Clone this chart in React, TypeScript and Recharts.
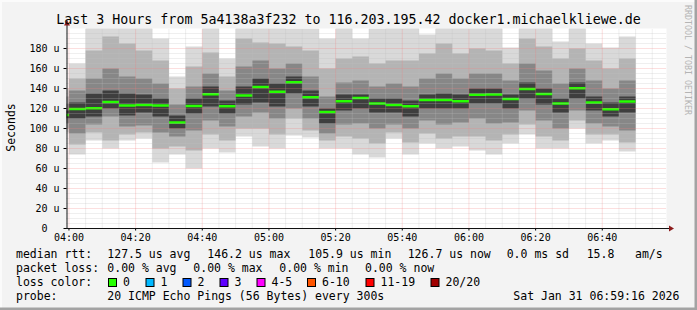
import React from 'react';
import { ComposedChart, Area, XAxis, YAxis, ReferenceLine } from 'recharts';

// 5-minute intervals, minutes after 04:00 (interval start)
const startMinutes = [-5, 0, 5, 10, 15, 20, 25, 30, 35, 40, 45, 50, 55, 60, 65, 70, 75, 80, 85, 90, 95, 100, 105, 110, 115, 120, 125, 130, 135, 140, 145, 150, 155, 160, 165];
// median round-trip time (microseconds)
const medianUs = [113.4, 119.6, 120.3, 126.6, 122.9, 123.6, 122.9, 106.0, 122.6, 134.2, 122.3, 132.9, 141.5, 136.8, 146.2, 131.2, 116.6, 127.3, 130.6, 124.9, 123.6, 122.3, 128.6, 128.6, 127.3, 133.7, 133.9, 129.6, 139.5, 134.5, 124.9, 140.2, 125.9, 119.3, 126.9];
// smoke: distribution of the 20 pings per interval
const minUs = [96, 74, 88, 80, 88, 90, 66, 74, 60, 80, 76, 92, 82, 80, 93, 91, 80, 80, 74, 71, 90, 74, 85, 80, 82, 78, 74, 85, 94, 80, 80, 100, 85, 88, 77];
const p10Us = [100, 84, 96, 88, 94, 96, 80, 82, 78, 94, 88, 100, 100, 94, 110, 98, 88, 92, 90, 85, 96, 86, 95, 90, 92, 92, 88, 94, 104, 92, 88, 108, 94, 94, 86];
const p25Us = [105, 95, 104, 112, 102, 103, 96, 92, 98, 108, 102, 112, 116, 110, 120, 110, 95, 104, 105, 100, 104, 100, 108, 104, 106, 110, 105, 106, 118, 108, 100, 118, 105, 102, 98];
const p40Us = [110, 110, 112, 120, 113, 116, 112, 100, 115, 122, 115, 124, 126, 122, 135, 122, 105, 118, 120, 116, 116, 112, 120, 120, 120, 125, 125, 120, 130, 124, 116, 130, 118, 112, 116];
const p60Us = [118, 126, 135, 138, 135, 134, 130, 113, 130, 142, 128, 142, 150, 145, 152, 138, 120, 134, 134, 130, 130, 128, 134, 135, 134, 140, 140, 134, 146, 140, 130, 146, 132, 126, 132];
const p75Us = [125, 138, 150, 160, 152, 150, 145, 124, 142, 155, 138, 162, 168, 160, 165, 152, 132, 146, 148, 142, 145, 142, 150, 155, 150, 155, 155, 148, 165, 158, 145, 160, 148, 140, 148];
const p90Us = [132, 150, 178, 192, 185, 178, 168, 140, 162, 176, 152, 190, 186, 185, 182, 178, 160, 170, 172, 165, 168, 168, 175, 185, 175, 180, 178, 165, 190, 182, 170, 180, 168, 160, 170];
const maxUs = [140, 165, 215, 225, 210, 202, 190, 152, 182, 210, 170, 215, 205, 210, 200, 200, 190, 205, 190, 200, 205, 205, 194, 210, 205, 210, 205, 181, 215, 205, 187, 205, 185, 181, 192];

const xTickValues = [0, 20, 40, 60, 80, 100, 120, 140, 160];
const xTickLabels = ['04:00', '04:20', '04:40', '05:00', '05:20', '05:40', '06:00', '06:20', '06:40'];
const yTickValues = [0, 20, 40, 60, 80, 100, 120, 140, 160, 180];
const yTickLabels = ['0\u00a0\u00a0', '20 u', '40 u', '60 u', '80 u', '100 u', '120 u', '140 u', '160 u', '180 u'];

const lossLabels = ['0', '1', '2', '3', '4-5', '6-10', '11-19', '20/20'];
const lossColors = ['#26ff00', '#00b8ff', '#0059ff', '#5e00ff', '#ff00ff', '#ff5500', '#ff0000', '#a00000'];

const title = 'Last 3 Hours from 5a4138a3f232 to 116.203.195.42 docker1.michaelkliewe.de';

// time window: 03:59:16 .. 06:59:16
const X_DOMAIN: [number, number] = [-44 / 60, 180 - 44 / 60];
const Y_DOMAIN: [number, number] = [0, 200];
const MEDIAN_HALF = 1.25;

const rows = startMinutes.map((t, i) => ({
  t,
  outer: [minUs[i], maxUs[i]],
  l2: [p10Us[i], p90Us[i]],
  l3: [p25Us[i], p75Us[i]],
  l4: [p40Us[i], p60Us[i]],
  med: [medianUs[i] - MEDIAN_HALF, medianUs[i] + MEDIAN_HALF],
}));
{
  const last = rows[rows.length - 1];
  rows.push({ ...last, t: last.t + 5 });
}

const minorX: number[] = [];
for (let m = 5; m < 180; m += 5) if (m % 20 !== 0) minorX.push(m);
const minorY: number[] = [];
for (let v = 5; v < 200; v += 5) if (v % 20 !== 0) minorY.push(v);
const majorY = yTickValues.filter((v) => v > 0);

const MONO = "'DejaVu Sans Mono', monospace";
const MINOR = 'rgba(192,192,192,0.5)';
const MAJOR = 'rgba(245,128,128,0.5)';

const layers = [
  { key: 'outer', fill: '#d9d9d9' },
  { key: 'l2', fill: '#b4b4b4' },
  { key: 'l3', fill: '#878787' },
  { key: 'l4', fill: '#3e3e3e' },
  { key: 'med', fill: '#26ff00' },
];

const legendRows = [
  { y: 257.7, parts: [
    { x: 16, s: 'median rtt:' },
    { x: 107.3, s: '127.5 us avg' },
    { x: 207.3, s: '146.2 us max' },
    { x: 308.3, s: '105.9 us min' },
    { x: 407.7, s: '126.7 us now' },
    { x: 506.7, s: '0.0 ms sd' },
    { x: 586.7, s: '15.8' },
    { x: 635, s: 'am/s' },
  ] },
  { y: 271.7, parts: [
    { x: 16, s: 'packet loss:' },
    { x: 107.3, s: '0.00 % avg' },
    { x: 193.3, s: '0.00 % max' },
    { x: 279.3, s: '0.00 % min' },
    { x: 365, s: '0.00 % now' },
  ] },
  { y: 285.7, parts: [{ x: 16, s: 'loss color:' }] },
  { y: 299.5, parts: [
    { x: 16, s: 'probe:' },
    { x: 107.3, s: '20 ICMP Echo Pings (56 Bytes) every 300s' },
    { x: 513.3, s: 'Sat Jan 31 06:59:16 2026' },
  ] },
];
const boxX = [108, 145.5, 182.5, 219.5, 256.5, 307, 365.5, 430.5];

export default function App() {
  return (
    <div style={{ position: 'absolute', left: 0, top: 0, width: 697, height: 310 }}>
      <svg width={697} height={310} style={{ position: 'absolute', left: 0, top: 0 }}>
        <rect x={0} y={0} width={697} height={310} fill="#f3f3f3" />
        <rect x={0} y={0} width={697} height={2} fill="#fbfbfb" />
        <rect x={0} y={0} width={2} height={310} fill="#fbfbfb" />
        <rect x={694.5} y={0} width={2.5} height={310} fill="#a3a3a3" />
        <rect x={0} y={307.5} width={697} height={2.5} fill="#a3a3a3" />
        <rect x={66.5} y={28.5} width={600} height={200} fill="#ffffff" />
      </svg>
      <div style={{ position: 'absolute', left: 0, top: 0 }}>
        <ComposedChart width={697} height={310} data={rows} margin={{ top: 28.5, right: 30.5, bottom: 0, left: 0 }}>
          <XAxis
            dataKey="t"
            type="number"
            domain={X_DOMAIN}
            allowDataOverflow
            ticks={xTickValues}
            tickFormatter={(v: number) => xTickLabels[xTickValues.indexOf(v)] ?? ''}
            height={81.5}
            axisLine={false}
            tickLine={{ stroke: '#000' }}
            tickSize={2}
            tickMargin={3}
            interval={0}
            tick={{ fontFamily: MONO, fontSize: 10, fill: '#000' }}
          />
          <YAxis
            type="number"
            domain={Y_DOMAIN}
            allowDataOverflow
            ticks={yTickValues}
            tickFormatter={(v: number) => yTickLabels[yTickValues.indexOf(v)] ?? ''}
            width={66.5}
            axisLine={false}
            tickLine={{ stroke: '#000' }}
            tickSize={3}
            tickMargin={4}
            interval={0}
            tick={{ fontFamily: MONO, fontSize: 10, fill: '#000' }}
          />
          {layers.map((l) => (
            <Area
              key={l.key}
              dataKey={l.key}
              type="stepAfter"
              stroke="none"
              fill={l.fill}
              fillOpacity={1}
              isAnimationActive={false}
              dot={false}
              activeDot={false}
            />
          ))}
          {minorY.map((v) => (
            <ReferenceLine key={'my' + v} y={v} stroke={MINOR} strokeDasharray="1 1" />
          ))}
          {minorX.map((v) => (
            <ReferenceLine key={'mx' + v} x={v} stroke={MINOR} strokeDasharray="1 1" />
          ))}
          {majorY.map((v) => (
            <ReferenceLine key={'My' + v} y={v} stroke={MAJOR} strokeDasharray="1 1" />
          ))}
          {xTickValues.map((v) => (
            <ReferenceLine key={'Mx' + v} x={v} stroke={MAJOR} strokeDasharray="1 1" />
          ))}
        </ComposedChart>
      </div>
      <svg width={697} height={310} style={{ position: 'absolute', left: 0, top: 0, pointerEvents: 'none' }}>
        <line x1={67} y1={228.5} x2={67} y2={24} stroke="#111" strokeWidth={1} />
        <polygon points="64,25.5 70,25.5 67,20" fill="#8c1c1c" />
        <line x1={66} y1={228.5} x2={670} y2={228.5} stroke="#111" strokeWidth={1} />
        <polygon points="669,225.5 669,231.5 674,228.5" fill="#8c1c1c" />
        <text x={348.5} y={24.2} textAnchor="middle" fontFamily={MONO} fontSize={13.3} fill="#000">{title}</text>
        <text transform="translate(14.5,127.5) rotate(-90)" textAnchor="middle" fontFamily={MONO} fontSize={11.5} fill="#000">Seconds</text>
        <text transform="translate(685,60) rotate(90)" textAnchor="middle" fontFamily={MONO} fontSize={8.3} fill="#b4b4b4">RRDTOOL / TOBI OETIKER</text>
        {legendRows.map((r, i) =>
          r.parts.map((p, j) => (
            <text key={i + '-' + j} x={p.x} y={r.y} fontFamily={MONO} fontSize={11.5} fill="#000" style={{ whiteSpace: 'pre' }}>{p.s}</text>
          ))
        )}
        {lossLabels.map((lab, i) => (
          <g key={lab}>
            <rect x={boxX[i] + 0.5} y={278.5} width={8} height={8} fill={lossColors[i]} stroke="#000" strokeWidth={1} />
            <text x={boxX[i] + 15} y={285.7} fontFamily={MONO} fontSize={11.5} fill="#000">{lab}</text>
          </g>
        ))}
      </svg>
    </div>
  );
}
